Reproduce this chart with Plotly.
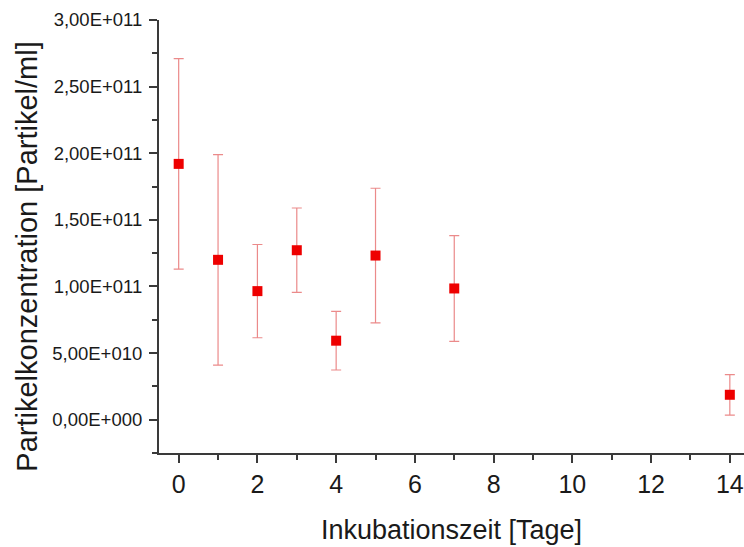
import plotly.graph_objects as go

# Incubation days and mean particle concentration (particles/ml) with standard deviation
days = [0, 1, 2, 3, 4, 5, 7, 14]
concentration = [1.92e11, 1.20e11, 0.965e11, 1.272e11, 0.593e11, 1.232e11, 0.985e11, 0.187e11]
std_dev = [0.79e11, 0.79e11, 0.35e11, 0.317e11, 0.22e11, 0.505e11, 0.397e11, 0.152e11]

y_tick_values = [0, 5e10, 1e11, 1.5e11, 2e11, 2.5e11, 3e11]
y_tick_labels = ["0,00E+000", "5,00E+010", "1,00E+011", "1,50E+011",
                 "2,00E+011", "2,50E+011", "3,00E+011"]
x_tick_values = [0, 2, 4, 6, 8, 10, 12, 14]

axis_color = "#3a3a3a"

fig = go.Figure()
fig.add_trace(go.Scatter(
    x=days,
    y=concentration,
    mode="markers",
    marker=dict(symbol="square", size=10, color="#ee0000"),
    error_y=dict(type="data", array=std_dev, visible=True,
                 color="#eb8a8a", thickness=1.2, width=5),
    showlegend=False,
))

fig.update_layout(
    width=744,
    height=547,
    margin=dict(l=159, r=0, t=20, b=94),
    paper_bgcolor="white",
    plot_bgcolor="white",
    font=dict(family="Liberation Sans, Arial, sans-serif", color="#1a1a1a"),
    xaxis=dict(
        range=[-0.5, 14.36],
        tickmode="array",
        tickvals=x_tick_values,
        ticktext=[str(v) for v in x_tick_values],
        tickfont=dict(size=25),
        ticks="outside",
        ticklen=8,
        tickwidth=2,
        tickcolor=axis_color,
        showline=True,
        linecolor=axis_color,
        linewidth=2,
        showgrid=False,
        zeroline=False,
        minor=dict(tick0=1, dtick=2, ticks="outside", ticklen=5,
                   tickwidth=2, tickcolor=axis_color, showgrid=False),
        title=dict(text="Inkubationszeit [Tage]", font=dict(size=27), standoff=23),
    ),
    yaxis=dict(
        range=[-2.5e10, 3.0e11],
        tickmode="array",
        tickvals=y_tick_values,
        ticktext=y_tick_labels,
        tickfont=dict(size=18.5),
        ticklabelstandoff=3,
        ticks="outside",
        ticklen=8,
        tickwidth=1.5,
        tickcolor=axis_color,
        showline=True,
        linecolor=axis_color,
        linewidth=2,
        showgrid=False,
        zeroline=False,
        minor=dict(tick0=2.5e10, dtick=5e10, ticks="outside", ticklen=5,
                   tickwidth=1.5, tickcolor=axis_color, showgrid=False),
    ),
    annotations=[dict(
        text="Partikelkonzentration [Partikel/ml]",
        textangle=-90,
        xref="paper", yref="paper",
        x=-0.226, y=0.453,
        xanchor="center", yanchor="middle",
        showarrow=False,
        font=dict(size=29),
    )],
)

fig.write_html("out.html")
